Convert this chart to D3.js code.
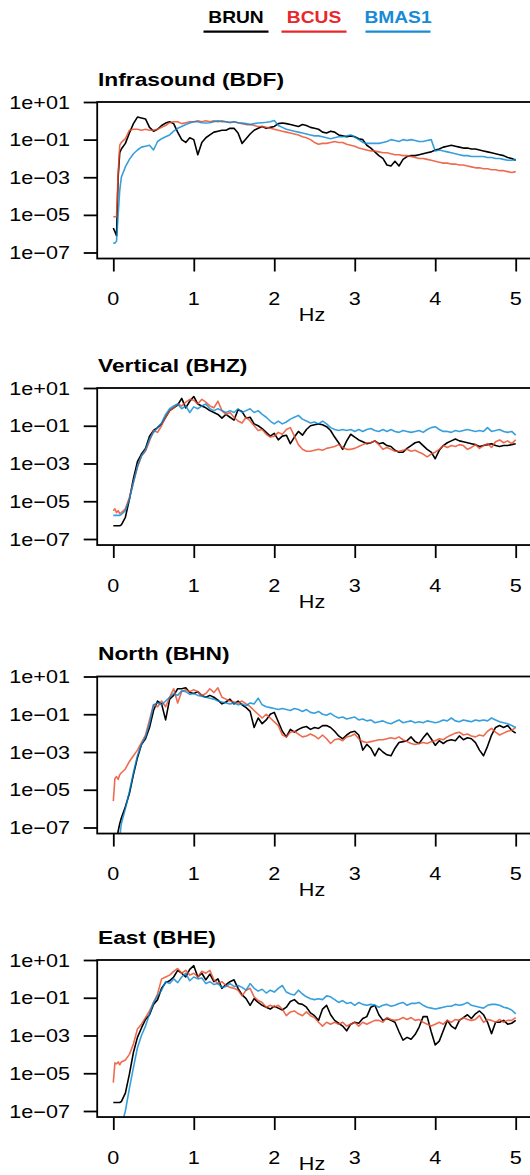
<!DOCTYPE html>
<html><head><meta charset="utf-8">
<script src="https://cdn.jsdelivr.net/npm/d3@7"></script>
<style>body{margin:0;background:#fff}svg{display:block}</style>
</head><body>
<svg id="chart" width="530" height="1175"></svg>
<script>
// ---------------- DATA ----------------
const freqHz = [0,0.02,0.04,0.06,0.08,
 0.1,0.15,0.2,0.25,0.3,0.35,0.4,0.45,0.5,0.55,0.6,0.65,0.7,0.75,0.8,0.85,0.9,0.95,1.0,
 1.05,1.1,1.15,1.2,1.25,1.3,1.35,1.4,1.45,1.5,1.55,1.6,1.65,1.7,1.75,1.8,1.85,1.9,1.95,2.0,
 2.05,2.1,2.15,2.2,2.25,2.3,2.35,2.4,2.45,2.5,2.55,2.6,2.65,2.7,2.75,2.8,2.85,2.9,2.95,3.0,
 3.05,3.1,3.15,3.2,3.25,3.3,3.35,3.4,3.45,3.5,3.55,3.6,3.65,3.7,3.75,3.8,3.85,3.9,3.95,4.0,
 4.05,4.1,4.15,4.2,4.25,4.3,4.35,4.4,4.45,4.5,4.55,4.6,4.65,4.7,4.75,4.8,4.85,4.9,4.95,5.0];

const stations = ["BRUN","BCUS","BMAS1"];
const channels = ["Infrasound (BDF)","Vertical (BHZ)","North (BHN)","East (BHE)"];
const xTicks = [0,1,2,3,4,5];
const xTickLabels = ["0","1","2","3","4","5"];
const yTicks = [1e1,1e-1,1e-3,1e-5,1e-7];
const yTickLabels = ["1e+01","1e\u221201","1e\u221203","1e\u221205","1e\u221207"];
const xLabel = "Hz";

// spectral amplitude, stored as log10 values
const brunBDF_log10 = [-5.7,-5.9,-6.1,-3.0,-1.7,
 -1.5,-1.2,-0.65,-0.15,0.2,0.15,0.1,-0.35,-0.55,-0.45,-0.25,-0.12,-0.05,-0.15,-0.6,-1.0,-1.15,-0.9,-1.0,
 -1.8,-1.15,-0.9,-0.75,-0.6,-0.55,-0.5,-0.5,-0.4,-0.4,-0.65,-1.2,-0.95,-0.7,-0.5,-0.4,-0.3,-0.4,-0.35,-0.3,
 -0.15,-0.12,-0.15,-0.2,-0.25,-0.3,-0.2,-0.25,-0.35,-0.4,-0.45,-0.6,-0.65,-0.55,-0.6,-0.75,-0.8,-0.85,-0.8,-0.85,
 -0.95,-1.0,-1.3,-1.45,-1.65,-1.85,-2.0,-2.35,-2.4,-2.15,-2.4,-2.05,-1.9,-1.85,-1.85,-1.8,-1.75,-1.7,-1.65,-1.55,
 -1.5,-1.4,-1.35,-1.3,-1.35,-1.4,-1.45,-1.45,-1.5,-1.5,-1.55,-1.6,-1.65,-1.7,-1.75,-1.8,-1.85,-1.95,-2.0,-2.1];
const bcusBDF_log10 = [-5.1,-5.1,-5.1,-2.8,-1.3,
 -1.15,-0.95,-0.5,-0.45,-0.45,-0.5,-0.45,-0.5,-0.5,-0.45,-0.35,-0.25,-0.1,-0.05,-0.05,-0.15,-0.1,-0.05,-0.05,
 0.0,-0.05,0.0,-0.05,0.0,-0.05,0.0,-0.05,-0.1,-0.05,-0.1,-0.15,-0.2,-0.2,-0.25,-0.3,-0.3,-0.35,-0.4,-0.45,
 -0.5,-0.55,-0.6,-0.65,-0.7,-0.75,-0.85,-0.9,-1.0,-1.15,-1.25,-1.2,-1.2,-1.15,-1.1,-1.15,-1.15,-1.25,-1.3,-1.35,
 -1.45,-1.5,-1.55,-1.6,-1.6,-1.65,-1.7,-1.7,-1.75,-1.8,-1.8,-1.85,-1.85,-1.9,-1.95,-2.0,-2.0,-2.05,-2.1,-2.15,
 -2.2,-2.25,-2.25,-2.3,-2.3,-2.35,-2.35,-2.4,-2.45,-2.5,-2.5,-2.55,-2.55,-2.6,-2.6,-2.65,-2.65,-2.7,-2.75,-2.7];
const bmasBDF_log10 = [-6.5,-6.5,-6.4,-5.0,-3.7,
 -3.0,-2.45,-2.05,-1.75,-1.55,-1.4,-1.35,-1.3,-1.55,-1.1,-0.95,-0.85,-0.75,-0.55,-0.4,-0.3,-0.2,-0.12,-0.05,
 -0.05,-0.1,-0.12,-0.1,-0.05,0.0,-0.05,-0.05,-0.08,-0.05,-0.1,-0.12,-0.15,-0.2,-0.15,-0.12,-0.1,-0.08,-0.05,0.02,
 -0.25,-0.35,-0.45,-0.5,-0.55,-0.6,-0.65,-0.7,-0.75,-0.8,-0.8,-0.85,-0.9,-0.95,-0.9,-0.85,-0.85,-0.8,-0.75,-0.85,
 -1.0,-1.15,-1.2,-1.2,-1.2,-1.2,-1.15,-1.1,-1.0,-1.05,-1.1,-1.0,-1.05,-1.0,-1.05,-1.1,-1.1,-1.05,-1.0,-1.6,
 -1.55,-1.6,-1.65,-1.7,-1.75,-1.8,-1.85,-1.85,-1.9,-1.9,-1.9,-1.9,-1.95,-1.95,-2.0,-2.0,-2.05,-2.1,-2.1,-2.05];

const brunBHZ_log10 = [-6.3,-6.3,-6.3,-6.3,-6.3,
 -6.25,-5.85,-4.9,-3.8,-2.9,-2.5,-2.2,-1.55,-1.25,-1.1,-0.9,-0.55,-0.2,-0.05,0.1,0.45,-0.05,0.3,0.55,
 0.15,0.05,-0.05,-0.2,-0.3,-0.4,-0.6,-0.4,-0.55,-0.7,-0.15,-0.25,-0.6,-0.55,-0.9,-1.0,-1.15,-1.35,-1.55,-1.4,
 -1.75,-1.55,-1.5,-1.95,-1.6,-1.3,-1.5,-1.2,-1.0,-0.95,-0.9,-0.95,-1.05,-1.25,-1.6,-1.9,-2.25,-1.8,-1.45,-1.6,
 -1.75,-1.85,-1.95,-1.9,-1.8,-1.95,-1.9,-2.05,-2.1,-2.3,-2.4,-2.4,-2.2,-2.05,-1.9,-1.85,-2.05,-2.25,-2.4,-2.75,
 -2.3,-2.05,-1.9,-1.8,-1.7,-1.8,-1.85,-1.9,-1.95,-2.0,-2.1,-2.05,-2.0,-1.95,-2.05,-2.1,-2.05,-2.05,-2.0,-1.95];
const bcusBHZ_log10 = [-5.5,-5.4,-5.6,-5.5,-5.65,
 -5.6,-5.4,-4.8,-4.0,-3.2,-2.6,-2.35,-1.8,-1.25,-1.35,-1.0,-0.55,-0.2,-0.05,0.15,0.05,0.25,0.4,0.35,
 0.15,0.4,0.25,0.05,-0.05,0.3,-0.2,-0.4,-0.3,-0.55,-0.75,-0.85,-0.55,-0.75,-1.0,-1.25,-1.2,-1.45,-1.6,-1.55,
 -1.35,-1.45,-1.2,-1.1,-1.55,-2.0,-2.25,-2.35,-2.35,-2.3,-2.25,-2.3,-2.2,-2.15,-2.1,-2.0,-2.15,-2.25,-2.25,-2.2,
 -2.1,-2.0,-1.9,-1.9,-1.8,-2.0,-2.25,-2.15,-2.25,-2.35,-2.35,-2.3,-2.25,-2.35,-2.3,-2.4,-2.5,-2.65,-2.5,-2.4,
 -2.25,-2.05,-2.15,-2.05,-2.1,-2.0,-2.05,-2.25,-2.15,-2.0,-2.2,-2.05,-1.95,-2.15,-1.85,-1.75,-1.9,-1.8,-1.95,-1.75];
const bmasBHZ_log10 = [-5.75,-5.75,-5.75,-5.75,-5.75,
 -5.7,-5.5,-4.9,-4.0,-3.15,-2.6,-2.25,-1.7,-1.35,-1.1,-0.85,-0.4,-0.1,0.05,0.15,-0.1,0.05,-0.3,0.0,
 -0.1,0.05,0.15,-0.1,-0.2,-0.1,-0.2,-0.3,-0.2,-0.3,-0.1,-0.3,-0.2,-0.1,-0.3,-0.2,-0.4,-0.55,-0.75,-0.9,
 -0.75,-0.9,-0.8,-0.65,-0.55,-0.45,-0.65,-0.75,-0.85,-0.8,-0.9,-0.75,-0.9,-1.1,-1.2,-1.25,-1.2,-1.25,-1.2,-1.3,
 -1.2,-1.3,-1.2,-1.15,-1.25,-1.3,-1.2,-1.3,-1.2,-1.3,-1.35,-1.25,-1.3,-1.35,-1.3,-1.25,-1.35,-1.2,-1.1,-1.05,
 -1.2,-1.3,-1.3,-1.35,-1.25,-1.3,-1.25,-1.2,-1.25,-1.3,-1.25,-1.3,-1.1,-1.3,-1.25,-1.2,-1.3,-1.35,-1.3,-1.5];

const brunBHN_log10 = [null,null,-7.6,-7.2,-6.8,
 -6.5,-5.9,-5.2,-4.2,-3.3,-2.6,-2.3,-1.7,-0.8,-0.3,-0.45,-1.3,-0.2,0.0,0.35,0.35,0.4,0.15,0.1,
 0.2,-0.01,-0.1,0.0,-0.1,-0.25,-0.45,-0.35,-0.2,-0.45,-0.3,-0.5,-0.65,-0.85,-1.7,-1.2,-1.5,-1.3,-1.0,-0.9,
 -1.4,-1.9,-2.2,-1.8,-1.95,-1.8,-1.7,-1.65,-1.8,-1.7,-1.75,-1.6,-1.6,-1.7,-1.9,-2.15,-2.3,-2.1,-1.95,-1.9,
 -2.1,-2.9,-2.6,-2.8,-3.2,-2.8,-3.0,-3.15,-3.2,-2.8,-2.5,-2.45,-2.4,-2.2,-2.45,-2.55,-2.25,-2.0,-2.3,-2.65,
 -2.4,-2.55,-2.4,-2.35,-2.4,-2.15,-2.35,-2.25,-2.3,-2.5,-2.9,-3.2,-2.7,-2.1,-1.7,-1.6,-1.7,-1.6,-1.85,-2.0];
const bcusBHN_log10 = [-5.6,-4.4,-4.3,-4.45,-4.2,
 -4.1,-3.9,-3.5,-3.2,-2.9,-2.5,-2.1,-1.3,-0.5,-0.6,-0.3,-0.6,-0.1,0.35,-0.4,0.2,0.3,0.2,0.3,
 0.2,0.0,0.1,0.35,0.15,0.4,-0.1,-0.2,-0.3,-0.35,-0.4,-0.3,-0.45,-0.6,-0.8,-1.0,-1.2,-1.0,-1.2,-1.4,
 -1.6,-2.1,-2.2,-1.95,-1.9,-2.05,-2.2,-2.15,-2.05,-2.15,-2.3,-2.1,-2.3,-2.55,-2.35,-2.3,-2.4,-2.2,-2.15,-2.05,
 -2.3,-2.45,-2.5,-2.45,-2.4,-2.35,-2.35,-2.3,-2.25,-2.3,-2.2,-2.35,-2.45,-2.55,-2.6,-2.55,-2.5,-2.55,-2.45,-2.4,
 -2.3,-2.35,-2.2,-2.1,-2.0,-1.95,-2.1,-2.05,-2.15,-2.2,-2.1,-2.15,-1.9,-1.75,-1.95,-2.1,-2.0,-1.9,-1.85,-1.7];
const bmasBHN_log10 = [null,null,null,null,-7.5,
 -6.8,-6.0,-5.1,-4.1,-3.2,-2.6,-2.2,-1.5,-0.5,-0.4,-0.5,-0.3,-0.1,0.1,0.0,0.25,0.2,0.05,0.1,
 0.0,-0.05,-0.1,-0.15,-0.2,-0.3,-0.35,-0.4,-0.45,-0.4,-0.5,-0.45,-0.55,-0.4,-0.45,-0.15,-0.5,-0.6,-0.65,-0.7,
 -0.75,-0.7,-0.75,-0.8,-0.7,-0.75,-0.85,-0.75,-0.9,-0.95,-0.85,-1.0,-1.05,-0.95,-1.1,-1.2,-1.15,-1.25,-1.2,-1.15,
 -1.3,-1.25,-1.35,-1.3,-1.45,-1.4,-1.35,-1.45,-1.5,-1.4,-1.3,-1.45,-1.4,-1.35,-1.45,-1.4,-1.45,-1.35,-1.4,-1.45,
 -1.4,-1.3,-1.35,-1.2,-1.35,-1.4,-1.3,-1.35,-1.4,-1.3,-1.35,-1.3,-1.35,-1.2,-1.3,-1.4,-1.45,-1.5,-1.6,-1.7];

const brunBHE_log10 = [-6.55,-6.55,-6.55,-6.55,-6.55,
 -6.5,-6.05,-5.05,-3.9,-3.1,-2.6,-2.15,-1.9,-1.35,-1.1,-0.5,-0.2,-0.1,0.1,0.45,0.3,0.1,0.5,0.7,
 0.1,0.3,-0.05,0.25,-0.15,0.0,-0.5,-0.3,-0.15,-0.05,-0.5,-0.85,-1.05,-1.4,-1.05,-1.25,-1.4,-1.5,-1.6,-1.45,
 -1.55,-1.65,-1.5,-1.2,-1.1,-1.3,-1.35,-1.5,-1.8,-1.95,-2.2,-1.6,-1.4,-1.9,-2.2,-2.35,-2.5,-2.75,-2.4,-2.3,
 -2.35,-2.1,-2.0,-1.5,-1.4,-1.9,-2.2,-2.1,-2.2,-2.3,-2.8,-3.25,-3.1,-3.2,-2.95,-2.55,-2.0,-2.0,-2.8,-3.5,
 -3.3,-2.75,-2.2,-2.5,-2.65,-2.2,-2.05,-1.9,-2.1,-1.85,-1.7,-1.9,-2.3,-2.9,-2.3,-2.3,-2.2,-2.4,-2.35,-2.2];
const bcusBHE_log10 = [-5.5,-4.45,-4.5,-4.4,-4.55,
 -4.4,-4.3,-4.0,-3.45,-2.65,-2.4,-2.05,-1.7,-1.25,-0.8,0.0,0.1,0.2,0.4,0.55,0.3,0.45,0.2,0.3,
 0.1,0.4,0.3,0.45,-0.05,-0.25,-0.15,-0.35,-0.45,-0.5,-0.6,-0.9,-0.6,-0.5,-0.95,-1.15,-1.25,-1.5,-1.4,-1.5,
 -1.4,-1.6,-1.95,-1.75,-1.7,-1.85,-1.95,-1.75,-1.95,-2.05,-2.3,-2.5,-2.3,-2.4,-2.3,-2.4,-2.3,-2.5,-2.4,-2.3,
 -2.5,-2.3,-2.4,-2.3,-2.2,-2.2,-2.3,-2.05,-2.15,-2.2,-2.15,-2.05,-2.15,-2.05,-2.2,-2.15,-2.3,-2.4,-2.5,-2.4,
 -2.3,-2.4,-2.2,-2.3,-2.15,-2.2,-2.05,-2.15,-2.2,-2.15,-1.95,-2.3,-2.15,-2.2,-2.3,-2.15,-2.3,-2.2,-2.2,-2.05];
const bmasBHE_log10 = [null,null,null,null,null,
 -7.8,-7.0,-5.8,-4.7,-3.65,-3.0,-2.5,-1.85,-1.25,-0.9,-0.6,-0.15,-0.25,0.0,-0.2,0.1,0.3,-0.1,0.1,
 0.0,0.05,-0.25,-0.15,-0.3,-0.25,-0.45,-0.4,-0.25,-0.4,-0.35,-0.45,-0.6,-0.25,-0.5,-0.65,-0.55,-0.75,-0.6,-0.7,
 -0.5,-0.35,-0.7,-0.8,-0.85,-0.6,-0.8,-0.95,-1.05,-1.1,-1.05,-1.1,-0.9,-0.95,-1.1,-1.25,-1.15,-1.3,-1.25,-1.4,
 -1.25,-1.35,-1.4,-1.35,-1.4,-1.5,-1.4,-1.35,-1.45,-1.4,-1.3,-1.25,-1.4,-1.3,-1.3,-1.25,-1.4,-1.5,-1.55,-1.6,
 -1.55,-1.5,-1.45,-1.45,-1.35,-1.4,-1.35,-1.25,-1.4,-1.45,-1.5,-1.55,-1.4,-1.35,-1.35,-1.4,-1.5,-1.55,-1.65,-1.85];

// ---------------- LAYOUT / STYLE ----------------
const panelSeries = [
  [brunBDF_log10, bcusBDF_log10, bmasBDF_log10],
  [brunBHZ_log10, bcusBHZ_log10, bmasBHZ_log10],
  [brunBHN_log10, bcusBHN_log10, bmasBHN_log10],
  [brunBHE_log10, bcusBHE_log10, bmasBHE_log10]
];
const panelTop = [102, 388, 676.5, 960];      // y of 1e+01
const panelLow = [252.5, 539, 827.5, 1111];   // y of 1e-07
const lineColors = ["#000000", "#ec4a2a", "#0588d3"];
const lineOpacity = [1, 0.82, 0.8];
const legendColors = ["#000000", "#e8262b", "#168bd6"];
const FONT = "'Liberation Sans', Arial, Helvetica, sans-serif";
const SX = 1.2; // horizontal stretch of glyphs in the original

const svg = d3.select("#chart");
const x = d3.scaleLinear().domain([0, 5]).range([113.3, 515.7]);
const boxL = x(-0.2), boxR = x(5.2);

function txt(g, px, py, s, size, weight, anchor, fill) {
  return g.append("text")
    .attr("transform", `translate(${px},${py}) scale(${SX},1)`)
    .attr("text-anchor", anchor)
    .attr("font-family", FONT)
    .attr("font-size", size)
    .attr("font-weight", weight)
    .attr("fill", fill || "#000")
    .text(s);
}

// legend
const legendX = [236, 314, 398];
stations.forEach((s, i) => {
  txt(svg, legendX[i], 22.5, s, 16, "bold", "middle", legendColors[i]);
  svg.append("line")
    .attr("x1", legendX[i] - 32.5).attr("x2", legendX[i] + 32.5)
    .attr("y1", 31.7).attr("y2", 31.7)
    .attr("stroke", legendColors[i]).attr("stroke-width", 2.2);
});

channels.forEach((ch, p) => {
  const y = d3.scaleLog().domain([1e-7, 1e1]).range([panelLow[p], panelTop[p]]);
  const boxT = y(1e1), boxB = y(Math.pow(10, -7.32));
  const g = svg.append("g");

  // title
  txt(g, 98, boxT - 16.5, ch, 19, "bold", "start");

  // clip
  const cid = "clip" + p;
  g.append("clipPath").attr("id", cid).append("rect")
    .attr("x", boxL).attr("y", boxT).attr("width", boxR - boxL).attr("height", boxB - boxT);

  // series
  const line = d3.line()
    .defined(d => d[1] != null)
    .x(d => x(d[0]))
    .y(d => y(d[1]));
  const plot = g.append("g").attr("clip-path", `url(#${cid})`);
  panelSeries[p].forEach((vals, si) => {
    const pts = freqHz.map((f, k) => [f, vals[k] == null ? null : Math.pow(10, vals[k])]);
    plot.append("path")
      .attr("d", line(pts))
      .attr("fill", "none")
      .attr("stroke", lineColors[si])
      .attr("stroke-opacity", lineOpacity[si])
      .attr("stroke-width", 1.6)
      .attr("stroke-linejoin", "round");
  });

  // box
  g.append("rect").attr("x", boxL).attr("y", boxT)
    .attr("width", boxR - boxL).attr("height", boxB - boxT)
    .attr("fill", "none").attr("stroke", "#000").attr("stroke-width", 1.8);

  // y axis ticks via d3 axis
  const ya = g.append("g").attr("transform", `translate(${boxL},0)`)
    .call(d3.axisLeft(y).tickValues(yTicks).tickSize(13.5).tickFormat(""));
  ya.select(".domain").remove();
  ya.selectAll(".tick line").attr("stroke", "#000").attr("stroke-width", 1.8);
  yTicks.forEach((t, i) => txt(g, 70, y(t) + 6.5, yTickLabels[i], 18, "normal", "end"));

  // x axis ticks
  const xa = g.append("g").attr("transform", `translate(0,${boxB + 0.5})`)
    .call(d3.axisBottom(x).tickValues(xTicks).tickSize(12.5).tickFormat(""));
  xa.select(".domain").remove();
  xa.selectAll(".tick line").attr("stroke", "#000").attr("stroke-width", 1.8);
  xTicks.forEach((t, i) => txt(g, x(t), boxB + 46.5, xTickLabels[i], 18, "normal", "middle"));
  txt(g, 312, Math.min(boxB + 62.5, 1170), xLabel, 18, "normal", "middle");
});
</script>
</body></html>
